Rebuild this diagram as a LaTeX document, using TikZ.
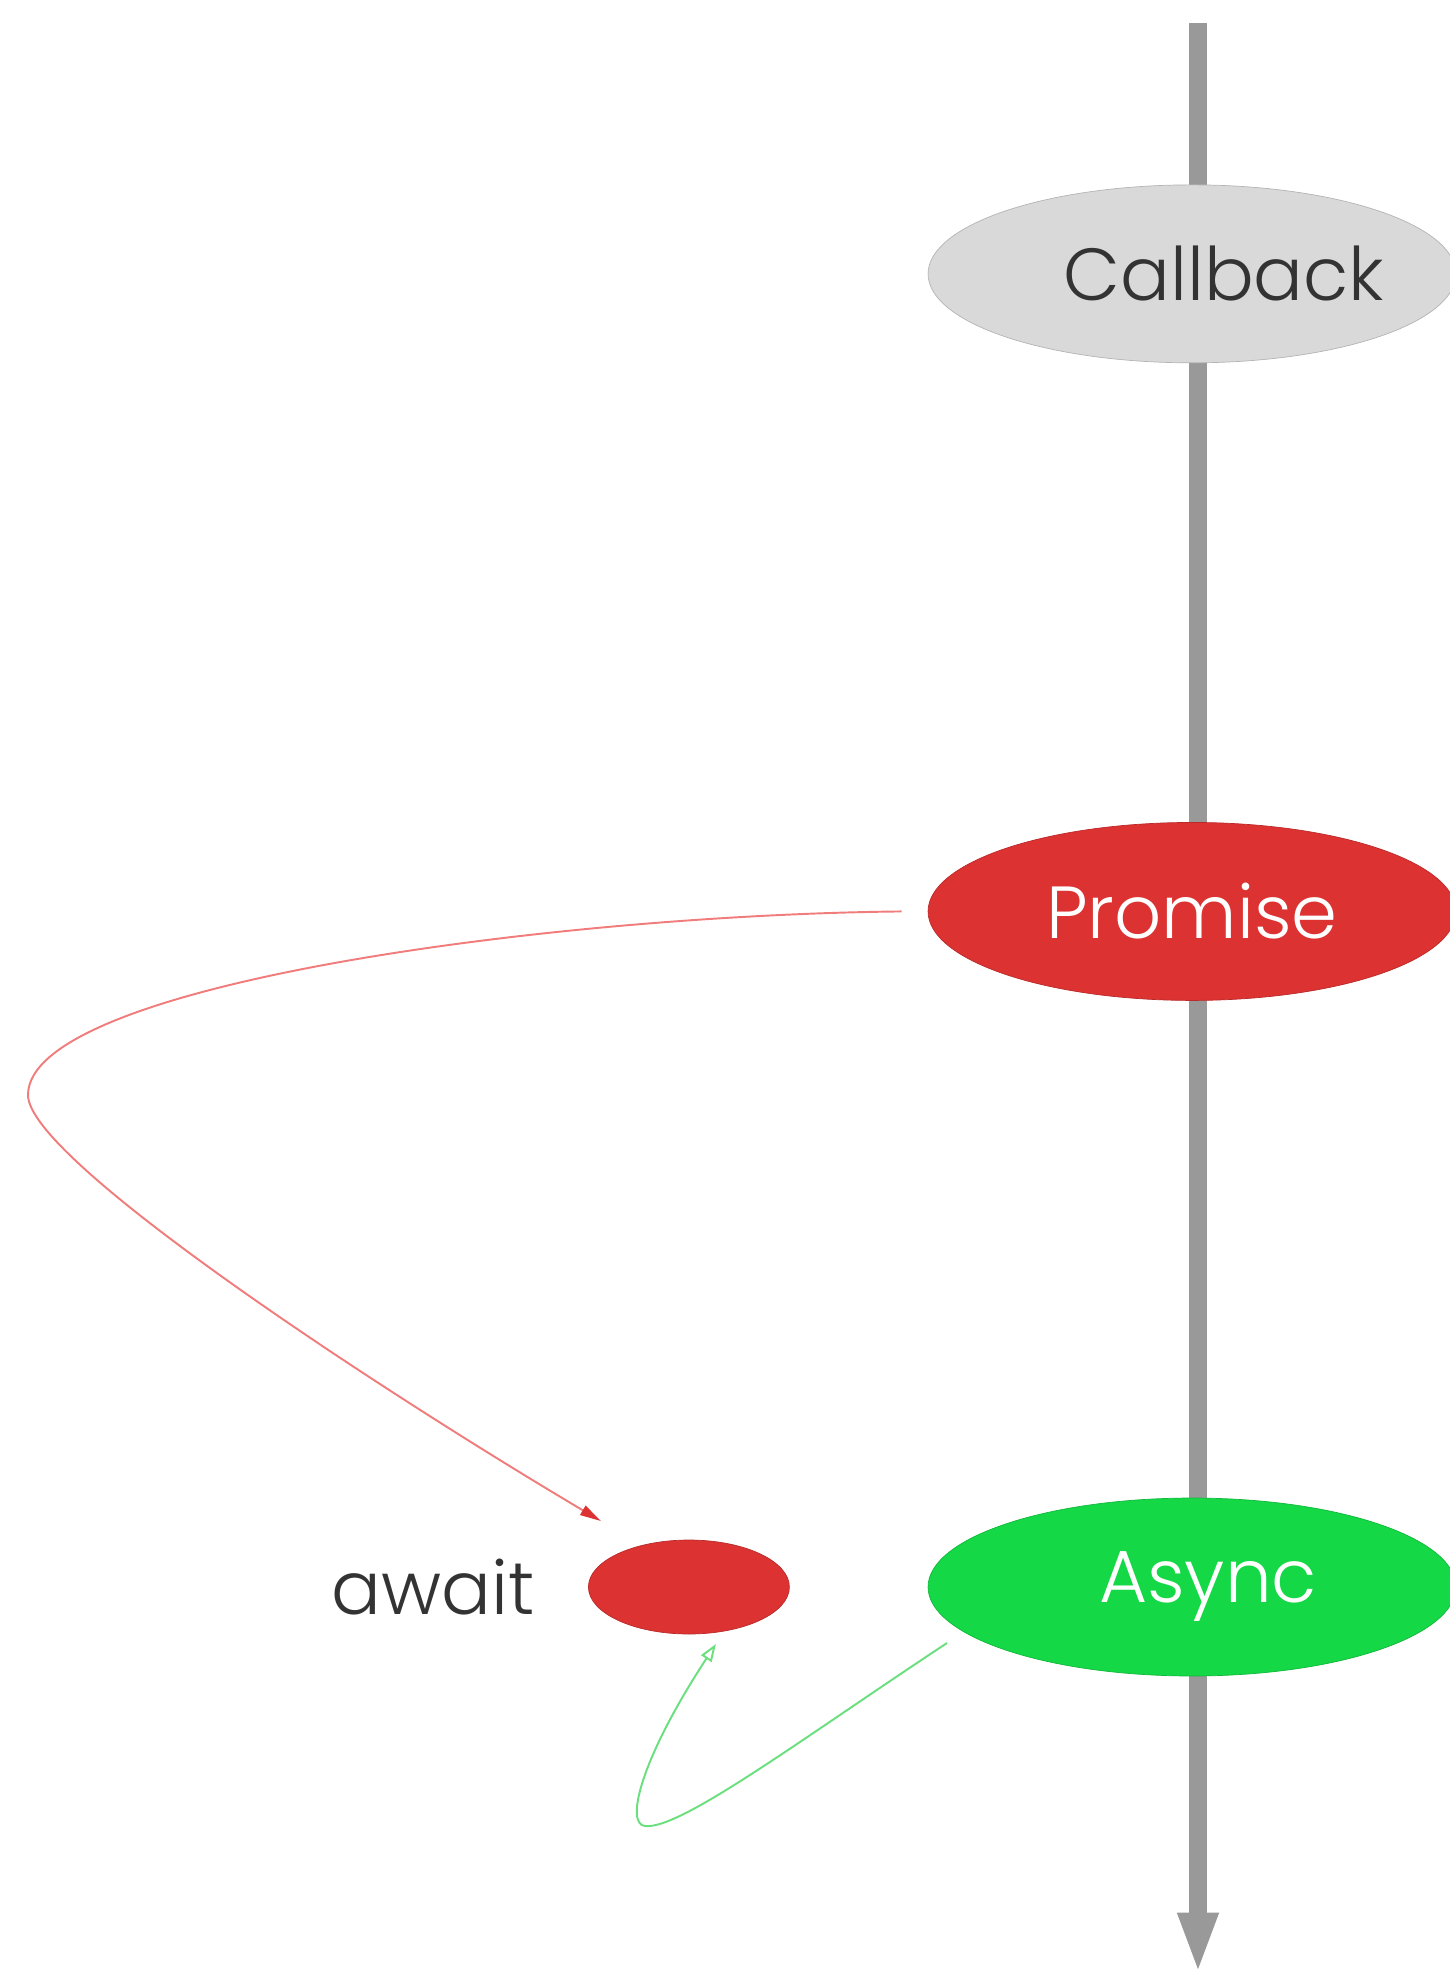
\documentclass[tikz,border=0pt]{standalone}
\usepackage{fontspec}
\setmainfont{Poppins Light}
\usetikzlibrary{arrows.meta,shapes.geometric,positioning}
\definecolor{lanegray}{HTML}{999999}
\definecolor{cbfill}{HTML}{D9D9D9}
\definecolor{cbdraw}{HTML}{B4B4B4}
\definecolor{prred}{HTML}{DC3232}
\definecolor{asgreen}{HTML}{14D845}
\definecolor{inkgray}{HTML}{333333}
\definecolor{flowred}{HTML}{F07C7C}
\definecolor{flowgreen}{HTML}{6ADF7E}

\begin{document}
\begin{tikzpicture}[x=0.02cm,y=-0.02cm]
  \tikzset{StageStyle/.style = {shape          = ellipse,
                                inner sep      = 0pt,
                                minimum width  = 10.56cm,
                                minimum height = 3.56cm,
                                font           = \fontsize{42}{46}\selectfont}}
  \useasboundingbox (0,0) rectangle (1450,1974);
	%%% TIME LINE %%%
	\coordinate (linetop) at (1198,23);
	\coordinate (linebot) at (1198,1974);
	\draw[lanegray, line width=10pt, -{Triangle[length=35pt, width=21pt]}] (linetop) -- (linebot);
	%%% STAGES %%%
	\node[StageStyle, fill=asgreen, draw=asgreen!85!black, text=white,
	      label={[text=white, font=\fontsize{42}{46}\selectfont, xshift=0.32cm]center:Async}] (async) at (1192,1587) {};
	\node[StageStyle, fill=prred, draw=prred!85!black, text=white, above=9.94cm of async] (promise) {Promise};
	\node[StageStyle, fill=cbfill, draw=cbdraw, above=9.18cm of promise,
	      label={[text=inkgray, font=\fontsize{42}{46}\selectfont, xshift=0.64cm]center:Callback}] (callback) {};
	%
	\node[shape=ellipse, fill=prred, draw=prred!85!black, minimum width=4.02cm, minimum height=1.88cm, left=2.76cm of async] (awaitdot) {};
	\node[text=inkgray, font=\fontsize{42}{46}\selectfont, left=0.95cm of awaitdot] (awaitlabel) {await};
	%%% FLOWS %%%
	\coordinate (promiseout) at ([xshift=-0.52cm]promise.west);
	\coordinate (awaitin) at ([shift={(-88,-66)}]awaitdot.center);
	\draw[flowred, line width=1.1pt, -{Triangle[length=12pt, width=6pt, color=prred]}]
	  (promiseout) .. controls (550,915) and (28,985) .. (28,1095)
	               .. controls (28,1160) and (380,1390) .. (awaitin);
	\coordinate (asyncout) at ([shift={(-245,56)}]async.center);
	\coordinate (awaitback) at ([shift={(27,57)}]awaitdot.center);
	\draw[flowgreen, line width=1.1pt, -{Triangle[open, length=10pt, width=7pt]}]
	  (asyncout) .. controls (800,1740) and (680,1830) .. (645,1826)
	             .. controls (625,1824) and (640,1760) .. (awaitback);
\end{tikzpicture}
\end{document}
